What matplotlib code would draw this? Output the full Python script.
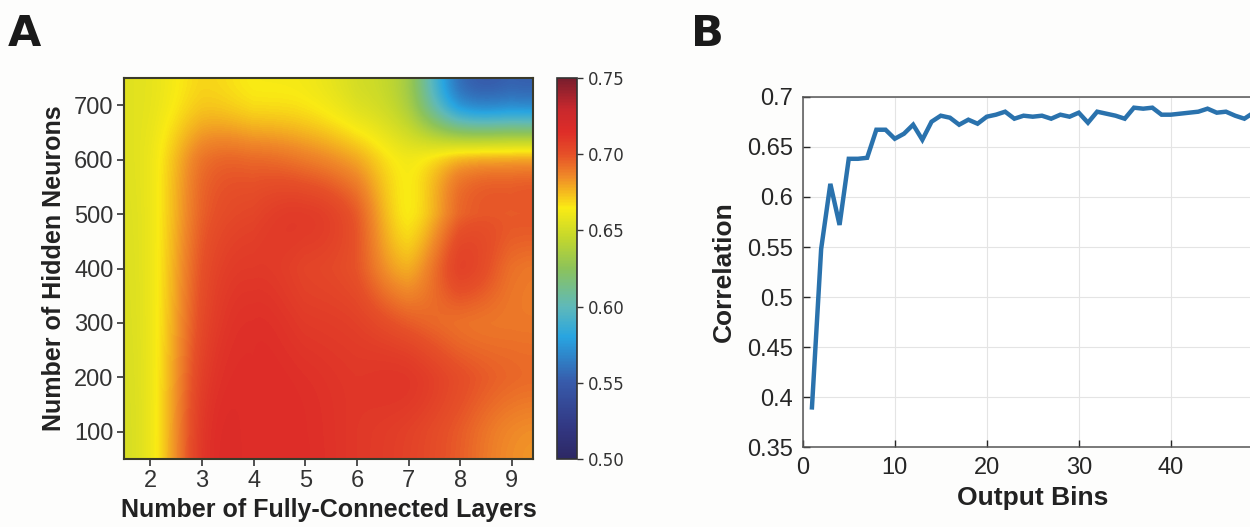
import matplotlib
matplotlib.use('Agg')
import matplotlib.pyplot as plt
import numpy as np
from matplotlib.colors import LinearSegmentedColormap
from matplotlib.ticker import FormatStrFormatter

# panel A data: rows = hidden neurons (100..700), cols = layers (2..9)
layers = [2, 3, 4, 5, 6, 7, 8, 9]
neurons = [100, 200, 300, 400, 500, 600, 700]
corr_grid = [
    [0.660, 0.709, 0.714, 0.714, 0.710, 0.706, 0.697, 0.686],  # 100
    [0.660, 0.706, 0.714, 0.713, 0.710, 0.710, 0.701, 0.694],  # 200
    [0.660, 0.702, 0.713, 0.709, 0.706, 0.697, 0.692, 0.690],  # 300
    [0.660, 0.699, 0.709, 0.705, 0.699, 0.678, 0.705, 0.692],  # 400
    [0.660, 0.695, 0.704, 0.708, 0.697, 0.665, 0.694, 0.697],  # 500
    [0.660, 0.690, 0.693, 0.689, 0.679, 0.662, 0.675, 0.678],  # 600
    [0.658, 0.672, 0.668, 0.666, 0.655, 0.636, 0.575, 0.570],  # 700
]

# panel B data
bins = list(range(1, 51))
corr = [0.390, 0.548, 0.613, 0.572, 0.638, 0.638, 0.639, 0.667, 0.667, 0.658,
        0.663, 0.672, 0.657, 0.675, 0.681, 0.679, 0.672, 0.677, 0.673, 0.680,
        0.682, 0.685, 0.678, 0.681, 0.680, 0.681, 0.678, 0.682, 0.680, 0.684,
        0.674, 0.685, 0.683, 0.681, 0.678, 0.689, 0.688, 0.689, 0.682, 0.682,
        0.683, 0.684, 0.685, 0.688, 0.684, 0.685, 0.681, 0.678, 0.684, 0.683]

# colormap anchors
cm_vals = [0.50, 0.52, 0.55, 0.58, 0.60, 0.625, 0.645, 0.665, 0.685, 0.70, 0.715, 0.73, 0.75]
cm_rgb = [(45, 40, 100), (50, 55, 130), (55, 90, 170), (40, 165, 225), (95, 185, 185),
          (140, 195, 90), (195, 215, 45), (250, 235, 20), (240, 140, 40), (230, 80, 40),
          (222, 45, 40), (200, 40, 45), (120, 30, 45)]
vmin, vmax = 0.50, 0.75
cmap = LinearSegmentedColormap.from_list(
    'corr', [((v - vmin) / (vmax - vmin), tuple(c / 255 for c in rgb)) for v, rgb in zip(cm_vals, cm_rgb)])

fig = plt.figure(figsize=(12.5, 5.27), dpi=100)
fig.patch.set_facecolor('#fdfdfc')

narrow = ['Liberation Sans Narrow', 'Liberation Sans', 'DejaVu Sans']

# ---- panel A
axA = fig.add_axes([0.0996, 0.129, 0.3264, 0.723])
im = axA.imshow(np.array(corr_grid), origin='lower', cmap=cmap, vmin=vmin, vmax=vmax,
                extent=[1.5, 9.5, 50, 750], aspect='auto', interpolation='spline16')
axA.set_xlim(1.5, 9.4)
axA.set_ylim(50, 750)
axA.set_xticks(layers)
axA.set_yticks(neurons)
for lab in axA.get_xticklabels() + axA.get_yticklabels():
    lab.set_family(narrow)
    lab.set_fontsize(17)
    lab.set_color('#333333')
axA.tick_params(length=5, width=1.2, color='#333333', pad=3)
for s in axA.spines.values():
    s.set_color('#3a3a2a')
    s.set_linewidth(1.5)
axA.set_xlabel('Number of Fully-Connected Layers', fontsize=18, fontweight='bold',
               family='Liberation Sans', color='#222222', labelpad=4)
axA.set_ylabel('Number of Hidden Neurons', fontsize=18, fontweight='bold',
               family='Liberation Sans', color='#222222', labelpad=6)

cax = fig.add_axes([0.4456, 0.129, 0.016, 0.723])
cb = fig.colorbar(im, cax=cax)
cb.set_ticks([0.50, 0.55, 0.60, 0.65, 0.70, 0.75])
cb.ax.yaxis.set_major_formatter(FormatStrFormatter('%.2f'))
cb.ax.tick_params(labelsize=12, length=4, width=1, colors='#333333')
cb.outline.set_edgecolor('#333333')
cb.outline.set_linewidth(1.2)

# ---- panel B
axB = fig.add_axes([0.6422, 0.1509, 0.368, 0.6657])
axB.plot(bins, corr, color='#2a72ad', linewidth=3.2, solid_joinstyle='miter')
axB.set_xlim(0, 50)
axB.set_ylim(0.35, 0.7)
axB.set_xticks([0, 10, 20, 30, 40])
axB.set_yticks(np.arange(0.35, 0.701, 0.05))
axB.yaxis.set_major_formatter(FormatStrFormatter('%g'))
axB.grid(True, color='#e4e4e4', linewidth=0.8)
axB.tick_params(direction='in', length=5, width=1, colors='#262626', labelsize=17, pad=7)
for lab in axB.get_xticklabels() + axB.get_yticklabels():
    lab.set_family('Liberation Sans')
for s in axB.spines.values():
    s.set_color('#555555')
    s.set_linewidth(1.1)
axB.set_xlabel('Output Bins', fontsize=19, fontweight='bold', family='Liberation Sans',
               color='#222222', labelpad=5)
axB.set_ylabel('Correlation', fontsize=19, fontweight='bold', family='Liberation Sans',
               color='#222222', labelpad=8)

# panel letters
fig.text(0.006, 0.975, 'A', fontsize=31, fontweight='heavy', family='DejaVu Sans',
         va='top', ha='left', color='#1a1a1a')
fig.text(0.553, 0.975, 'B', fontsize=31, fontweight='heavy', family='DejaVu Sans',
         va='top', ha='left', color='#1a1a1a')

fig.savefig('out.png', dpi=100, facecolor=fig.get_facecolor())
